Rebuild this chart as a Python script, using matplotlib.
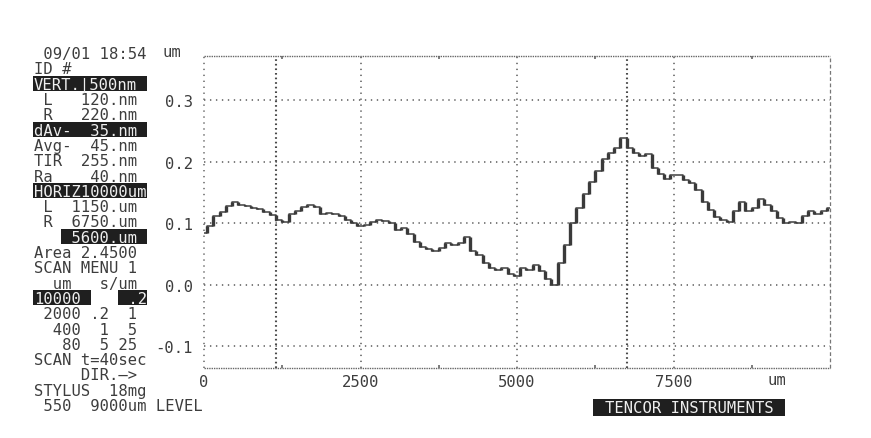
import matplotlib
matplotlib.use("Agg")
import matplotlib.pyplot as plt
from matplotlib.patches import Rectangle

# ---- profile data -------------------------------------------------------
scan_um = list(range(0, 10001, 100))          # stylus position along scan (um)
height_um = [
    0.085, 0.095, 0.112, 0.118, 0.128, 0.135, 0.130, 0.128, 0.125, 0.124,
    0.118, 0.113, 0.106, 0.103, 0.115, 0.120, 0.127, 0.130, 0.127, 0.115,
    0.117, 0.115, 0.112, 0.105, 0.100, 0.095, 0.097, 0.103, 0.105, 0.104,
    0.100, 0.090, 0.093, 0.082, 0.070, 0.062, 0.058, 0.055, 0.060, 0.068,
    0.065, 0.068, 0.078, 0.055, 0.048, 0.035, 0.028, 0.025, 0.028, 0.018,
    0.015, 0.028, 0.025, 0.032, 0.022, 0.010, 0.000, 0.035, 0.065, 0.100,
    0.125, 0.148, 0.168, 0.185, 0.205, 0.215, 0.222, 0.238, 0.222, 0.215,
    0.210, 0.212, 0.190, 0.180, 0.172, 0.178, 0.178, 0.170, 0.165, 0.155,
    0.135, 0.122, 0.110, 0.105, 0.102, 0.120, 0.135, 0.120, 0.125, 0.140,
    0.130, 0.120, 0.108, 0.100, 0.102, 0.100, 0.112, 0.120, 0.115, 0.120,
    0.125,
]

cursor_um = [1150, 6750]                       # L and R cursors
x_grid = [2500, 5000, 7500]
x_labels = ["0", "2500", "5000", "7500"]
x_label_pos = [0, 2500, 5000, 7500]
x_minor = [1250, 3750, 6250, 8750]
x_unit_pos = 9150
y_grid = [0.3, 0.2, 0.1, 0.0, -0.1]
y_labels = ["0.3", "0.2", "0.1", "0.0", "-0.1"]
x_range = (0, 10000)
y_range = (-0.135, 0.372)

# left-hand readout, one string per printer row
panel_rows = [
    " 09/01 18:54",
    "ID #",
    "",
    " L   120.nm",
    " R   220.nm",
    "",
    "Avg-  45.nm",
    "TIR  255.nm",
    "Ra    40.nm",
    "",
    " L  1150.um",
    " R  6750.um",
    "",
    "Area 2.4500",
    "SCAN MENU 1",
    "  um   s/um",
    "",
    " 2000 .2  1",
    "  400  1  5",
    "   80  5 25",
    "SCAN t=40sec",
    "     DIR.\u2014>",
    "STYLUS  18mg",
    " 550  9000um LEVEL",
]
# inverse-video fields: (row, first column, width in columns, text)
panel_inverse = [
    (2, 0, 12, "VERT.|500nm"),
    (5, 0, 12, "dAv-  35.nm"),
    (9, 0, 12, "HORIZ10000um"),
    (12, 3, 9, " 5600.um"),
    (16, 0, 6, "10000"),
    (16, 9, 3, " .2"),
]

# ---- figure --------------------------------------------------------------
W, H = 871, 439
fig = plt.figure(figsize=(W / 100, H / 100), dpi=100, facecolor="white")

def fx(px):
    return px / W

def fy(py):
    return 1 - py / H

MONO = "DejaVu Sans Mono"
FS = 11.2
INK = "#3d3d3d"
GRID = "#5a5a5a"

ax_l, ax_r, ax_t, ax_b = 204, 830, 57, 369
ax = fig.add_axes([fx(ax_l), fy(ax_b), (ax_r - ax_l) / W, (ax_b - ax_t) / H])
ax.set_xlim(*x_range)
ax.set_ylim(*y_range)
ax.set_facecolor("white")
for s in ax.spines.values():
    s.set_visible(False)

# grid: fine dotted lines
for y in y_grid:
    ax.axhline(y, color=GRID, lw=1.1, dashes=(0.9, 3.0), zorder=1)
for x in x_grid:
    ax.axvline(x, color=GRID, lw=1.1, dashes=(0.9, 3.0), zorder=1)
# cursors: denser dotted lines
for x in cursor_um:
    ax.axvline(x, color="#4a4a4a", lw=1.5, dashes=(0.8, 1.4), zorder=1)

# frame
ax.plot([0, 1], [1, 1], transform=ax.transAxes, color="#666666", lw=1.0,
        dashes=(1.0, 0.7), clip_on=False, zorder=2)
ax.plot([0, 1], [0, 0], transform=ax.transAxes, color="#666666", lw=1.0,
        dashes=(1.0, 0.7), clip_on=False, zorder=2)
ax.plot([0, 0], [0, 1], transform=ax.transAxes, color="#666666", lw=1.1,
        dashes=(0.9, 3.0), clip_on=False, zorder=2)
ax.plot([1, 1], [0, 1], transform=ax.transAxes, color="#777777", lw=0.9,
        dashes=(3.0, 2.0), clip_on=False, zorder=2)

# profile trace: thin treads with heavier risers, printer style
ax.plot(scan_um, height_um, drawstyle="steps-mid", color="#404040", lw=1.1,
        zorder=3)
mid_x = [(a + b) / 2 for a, b in zip(scan_um[:-1], scan_um[1:])]
lo = [min(a, b) for a, b in zip(height_um[:-1], height_um[1:])]
hi = [max(a, b) for a, b in zip(height_um[:-1], height_um[1:])]
ax.vlines(mid_x, lo, hi, color="#3a3a3a", lw=2.4, zorder=3)

# ticks and labels
ax.set_xticks(x_label_pos)
ax.set_xticklabels(x_labels, fontfamily=MONO, fontsize=FS, color=INK)
ax.set_xticks(x_minor, minor=True)
ax.set_yticks(y_grid)
ax.set_yticklabels(y_labels, fontfamily=MONO, fontsize=FS, color=INK)
ax.tick_params(axis="x", which="major", length=0, pad=4.5)
ax.tick_params(axis="y", which="major", length=0, pad=8)
ax.tick_params(axis="x", which="minor", top=True, bottom=True,
               direction="in", length=2, width=1.2, color="#666666")
ax.text(x_unit_pos, y_range[0] - 0.006, "um", fontfamily=MONO,
        fontsize=FS, color=INK, ha="center", va="top")
fig.text(fx(162), fy(57), "um", fontfamily=MONO, fontsize=FS, color=INK,
         ha="left", va="baseline")

# ---- readout panel -------------------------------------------------------
col0, cw, row0, rh = 34.0, 9.45, 54.0, 15.3

def row_base(i):
    return fy(row0 + i * rh + 5.2)

for i, txt in enumerate(panel_rows):
    if txt:
        fig.text(fx(col0), row_base(i), txt, fontfamily=MONO, fontsize=FS,
                 color=INK, ha="left", va="baseline")

for row, c0, ncol, txt in panel_inverse:
    top = row0 + row * rh - 7.6
    fig.add_artist(Rectangle((fx(col0 + c0 * cw - 1), fy(top + 15.2)),
                             (ncol * cw + 1) / W, 15.2 / H,
                             transform=fig.transFigure, facecolor="#1f1f1f",
                             edgecolor="none", zorder=1))
    fig.text(fx(col0 + c0 * cw), row_base(row), txt, fontfamily=MONO,
             fontsize=FS, color="#eeeeee", ha="left", va="baseline", zorder=2)

# brand plate
fig.add_artist(Rectangle((fx(593), fy(417)), (785 - 593) / W, 17 / H,
                         transform=fig.transFigure, facecolor="#1f1f1f",
                         edgecolor="none", zorder=1))
fig.text(fx(689), fy(413), "TENCOR INSTRUMENTS", fontfamily=MONO, fontsize=FS,
         color="#eeeeee", ha="center", va="baseline", zorder=2)

fig.savefig("out.png", dpi=100, facecolor="white")
